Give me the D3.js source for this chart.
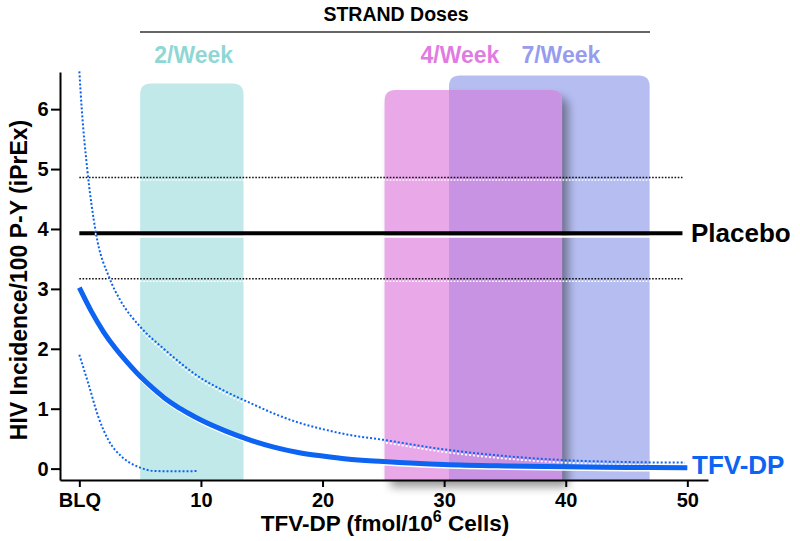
<!DOCTYPE html>
<html>
<head>
<meta charset="utf-8">
<script src="https://cdn.jsdelivr.net/npm/d3@7"></script>
<style>
  body { margin: 0; background: #fff; }
  svg text { font-family: "Liberation Sans", Arial, Helvetica, sans-serif; font-weight: bold; }
</style>
</head>
<body>
<div class="chart"></div>
<script>
// tick values / labels
var xTicks = [0, 10, 20, 30, 40, 50];
var xTickLabels = ["BLQ", "10", "20", "30", "40", "50"];
var yTicks = [0, 1, 2, 3, 4, 5, 6];

// STRAND dose bands (fmol/10^6 cells)
var doseLabels = ["2/Week", "4/Week", "7/Week"];
var doseLow = [5.0, 25.1, 30.4];
var doseHigh = [13.5, 39.7, 46.9];
var doseTop = [6.43, 6.32, 6.56];
var doseLabelX = [9.4, 31.3, 39.6];

// placebo incidence and 95% CI
var placeboRate = 3.93;
var placeboLow = 3.17;
var placeboHigh = 4.86;
var placeboSpan = [0, 49.6];

// TFV-DP fitted incidence
var fitX = [0, 1, 2, 3, 4, 5, 6, 7, 8, 9, 10, 12, 14, 16, 18, 20, 22, 25, 30, 35, 40, 45, 50];
var fitY = [3.02, 2.62, 2.28, 2.0, 1.76, 1.54, 1.35, 1.18, 1.04, 0.92, 0.81, 0.63, 0.48, 0.36, 0.27, 0.21, 0.16, 0.12, 0.07, 0.045, 0.03, 0.02, 0.013];

var upperX = [0, 0.2, 0.65, 1.35, 2.5, 3.4, 5, 7, 10, 12, 14, 16, 18, 20, 22, 25, 30, 35, 40, 45, 49.8];
var upperY = [6.63, 6.0, 5.0, 3.95, 3.17, 2.8, 2.37, 1.99, 1.51, 1.29, 1.1, 0.92, 0.77, 0.66, 0.57, 0.48, 0.32, 0.21, 0.14, 0.11, 0.10];

var lowerX = [0, 0.74, 1.56, 2.38, 3.48, 4.85, 6.2, 8, 9.8];
var lowerY = [1.9, 1.42, 0.865, 0.48, 0.2, 0.03, -0.04, -0.045, -0.04];

var blue = "#0d63f2";
var fontFam = "'Liberation Sans', Arial, Helvetica, sans-serif";

var width = 800, height = 541;

var svg = d3.select(".chart").append("svg")
    .attr("width", width)
    .attr("height", height);

var x = d3.scaleLinear().domain([-1.59, 51.7]).range([60, 708]);
var y = d3.scaleLinear().domain([-0.19, 6.62]).range([480, 72]);

var defs = svg.append("defs");
var blur = defs.append("filter").attr("id", "shadow")
    .attr("x", "-20%").attr("y", "-20%").attr("width", "150%").attr("height", "150%");
blur.append("feGaussianBlur").attr("stdDeviation", 5);

// rounded top corners only
function bandPath(x0, x1, y0, y1, r){
    return "M" + x0 + "," + y1 +
        "V" + (y0 + r) +
        "Q" + x0 + "," + y0 + " " + (x0 + r) + "," + y0 +
        "H" + (x1 - r) +
        "Q" + x1 + "," + y0 + " " + x1 + "," + (y0 + r) +
        "V" + y1 + "Z";
}

function band(i){
    return bandPath(x(doseLow[i]), x(doseHigh[i]), y(doseTop[i]), y(-0.19), 11);
}

// 2/Week
svg.append("path").attr("d", band(0)).attr("fill", "#c1e9e9");
// 7/Week behind
svg.append("path").attr("d", band(2)).attr("fill", "#b6bdf1");
// shadow of 4/Week
svg.append("path").attr("d", band(1))
    .attr("transform", "translate(6,7)")
    .attr("fill", "#000").attr("opacity", 0.4)
    .attr("filter", "url(#shadow)");
svg.append("path").attr("d", band(1)).attr("fill", "#e9a9e9");
// overlap of 4/Week and 7/Week
defs.append("clipPath").attr("id", "clip7")
    .append("path").attr("d", band(2));
svg.append("path").attr("d", band(1))
    .attr("clip-path", "url(#clip7)")
    .attr("fill", "#c993e3");

// dose labels
var doseColors = ["#8fd7d5", "#e07ce1", "#979cee"];
svg.selectAll(".doseLabel")
    .data(doseLabels)
    .enter()
    .append("text")
    .attr("class", "doseLabel")
    .attr("x", function(d, i){ return x(doseLabelX[i]); })
    .attr("y", 63)
    .attr("text-anchor", "middle")
    .style("font-size", "23px")
    .attr("fill", function(d, i){ return doseColors[i]; })
    .text(function(d){ return d; });

svg.append("text")
    .attr("x", 396).attr("y", 21)
    .attr("text-anchor", "middle")
    .style("font-size", "19.5px")
    .text("STRAND Doses");
svg.append("line")
    .attr("x1", 140).attr("x2", 650)
    .attr("y1", 32).attr("y2", 32)
    .attr("stroke", "#333").attr("stroke-width", 1.5);

// placebo lines (white ghost underneath)
function hline(v, color, w, dash, dy){
    svg.append("line")
        .attr("x1", x(placeboSpan[0])).attr("x2", x(placeboSpan[1]))
        .attr("y1", y(v) + dy).attr("y2", y(v) + dy)
        .attr("stroke", color).attr("stroke-width", w)
        .attr("stroke-dasharray", dash);
}
hline(placeboHigh, "#fff", 1.5, "1.6,1.6", 2.5);
hline(placeboLow, "#fff", 1.5, "1.6,1.6", 2.5);
hline(placeboRate, "#fff", 2, null, 3.5);
hline(placeboHigh, "#111", 1.6, "1.6,1.6", 0);
hline(placeboLow, "#111", 1.6, "1.6,1.6", 0);
hline(placeboRate, "#000", 4, null, 0);

// TFV-DP curves
var line = d3.line()
    .x(function(d){ return x(d[0]); })
    .y(function(d){ return y(d[1]); })
    .curve(d3.curveMonotoneX);

var fit = d3.zip(fitX, fitY);
var upper = d3.zip(upperX, upperY);
var lower = d3.zip(lowerX, lowerY);

svg.append("path").attr("d", line(upper))
    .attr("transform", "translate(0,2.5)")
    .attr("fill", "none").attr("stroke", "#fff")
    .attr("stroke-width", 1.8).attr("stroke-dasharray", "2,2");
svg.append("path").attr("d", line(fit))
    .attr("transform", "translate(0,3)")
    .attr("fill", "none").attr("stroke", "#fff")
    .attr("stroke-width", 2);

svg.append("path").attr("d", line(upper))
    .attr("fill", "none").attr("stroke", blue)
    .attr("stroke-width", 2).attr("stroke-dasharray", "2,2");
svg.append("path").attr("d", line(lower))
    .attr("fill", "none").attr("stroke", blue)
    .attr("stroke-width", 2).attr("stroke-dasharray", "2,2");
svg.append("path").attr("d", line(fit))
    .attr("fill", "none").attr("stroke", blue)
    .attr("stroke-width", 5).attr("stroke-linecap", "butt");

// axes
var xAxis = d3.axisBottom(x)
    .tickValues(xTicks)
    .tickFormat(function(d, i){ return xTickLabels[i]; })
    .tickSize(7).tickSizeOuter(0).tickPadding(5.5);
var yAxis = d3.axisLeft(y)
    .tickValues(yTicks)
    .tickFormat(d3.format("d"))
    .tickSize(9).tickSizeOuter(0).tickPadding(2.5);

var gx = svg.append("g").attr("transform", "translate(0,480)").call(xAxis);
var gy = svg.append("g").attr("transform", "translate(60,0)").call(yAxis);
[gx, gy].forEach(function(g){
    g.attr("font-size", 20).attr("font-family", fontFam);
    g.select(".domain").attr("stroke", "#000").attr("stroke-width", 2);
    g.selectAll(".tick line").attr("stroke", "#000").attr("stroke-width", 2);
    g.selectAll(".tick text")
        .attr("fill", "#000")
        .style("font-size", "20px")
        .style("font-family", fontFam)
        .style("font-weight", "bold");
});

// series labels
svg.append("text").attr("x", 691).attr("y", 242)
    .style("font-size", "26px").attr("fill", "#000").text("Placebo");
svg.append("text").attr("x", 692).attr("y", 474)
    .style("font-size", "26px").attr("fill", blue).text("TFV-DP");

// axis titles
svg.append("text")
    .attr("transform", "translate(27,280) rotate(-90)")
    .attr("text-anchor", "middle")
    .style("font-size", "23px")
    .text("HIV Incidence/100 P-Y (iPrEx)");

var xt = svg.append("text")
    .attr("x", 385).attr("y", 531)
    .attr("text-anchor", "middle")
    .style("font-size", "22.5px");
xt.append("tspan").text("TFV-DP (fmol/10");
xt.append("tspan").attr("dy", -9).style("font-size", "16px").text("6");
xt.append("tspan").attr("dy", 9).text(" Cells)");
</script>
</body>
</html>
